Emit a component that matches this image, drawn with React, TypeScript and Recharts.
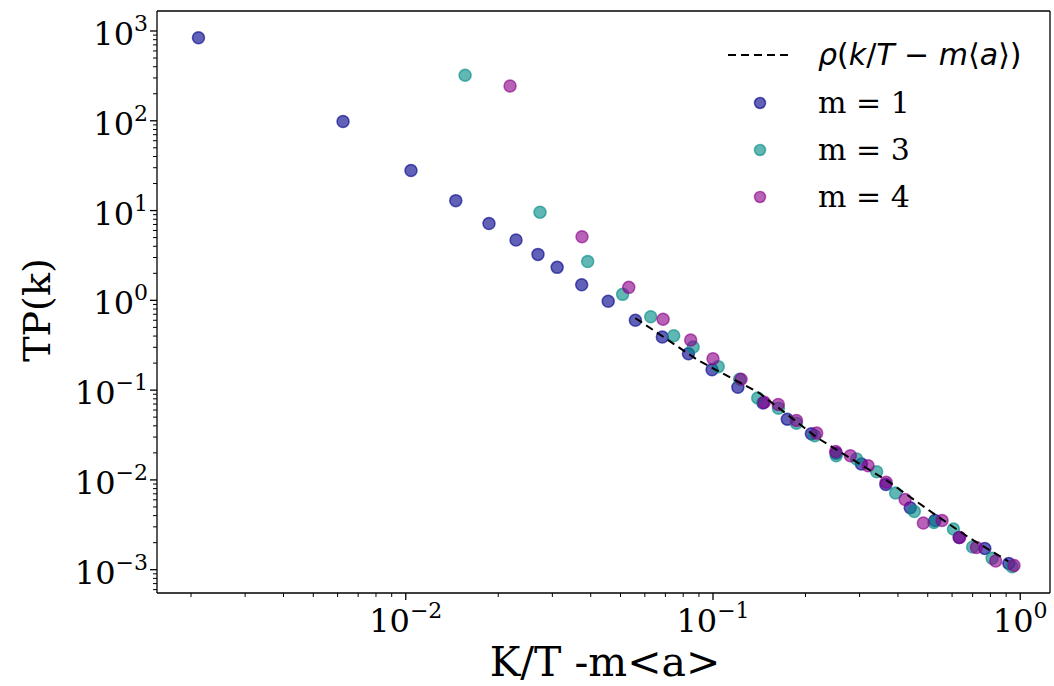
import {
  Label,
  Legend,
  ReferenceLine,
  Scatter,
  ScatterChart,
  XAxis,
  YAxis,
} from "recharts";

// m = 1
const m1X = [
  0.002115, 0.00625, 0.0104, 0.01455, 0.01866, 0.02285, 0.02694, 0.0311,
  0.03738, 0.0456, 0.0559, 0.0684, 0.0832, 0.0993, 0.1205, 0.1455, 0.1745,
  0.209, 0.2516, 0.3042, 0.3652, 0.4385, 0.5277, 0.6324, 0.767, 0.918,
];
const m1Y = [
  842, 98, 27.9, 12.9, 7.19, 4.69, 3.25, 2.33, 1.49, 0.975, 0.599, 0.391,
  0.2547, 0.169, 0.1077, 0.0721, 0.0475, 0.0326, 0.01987, 0.015, 0.00889,
  0.0049, 0.00353, 0.00229, 0.001726, 0.001175,
];

// m = 3
const m3X = [
  0.0156, 0.02735, 0.0391, 0.0508, 0.0627, 0.0745, 0.0862, 0.104, 0.1221,
  0.1398, 0.1633, 0.1869, 0.2143, 0.2518, 0.2935, 0.341, 0.393, 0.452, 0.5238,
  0.6063, 0.7, 0.81, 0.941,
];
const m3Y = [
  321, 9.6, 2.71, 1.166, 0.657, 0.404, 0.302, 0.1826, 0.1322, 0.0819, 0.0629,
  0.0428, 0.031, 0.01854, 0.01708, 0.0123, 0.00713, 0.00445, 0.00336, 0.00284,
  0.00179, 0.00134, 0.00108,
];

// m = 4
const m4X = [
  0.02185, 0.03747, 0.0532, 0.0688, 0.0846, 0.1, 0.1234, 0.1469, 0.1631,
  0.1869, 0.2176, 0.2508, 0.28, 0.3198, 0.3662, 0.422, 0.4838, 0.5566, 0.635,
  0.7203, 0.832, 0.9546,
];
const m4Y = [
  244, 5.1, 1.395, 0.615, 0.3618, 0.224, 0.1322, 0.0733, 0.0691, 0.046,
  0.0332, 0.0207, 0.01854, 0.0144, 0.0094, 0.00605, 0.00331, 0.00353, 0.00229,
  0.00177, 0.00125, 0.001114,
];

// rho(k/T - m<a>)
const fitX = [0.0559, 0.0891, 0.1419, 0.2192, 0.3722, 0.52, 0.684, 0.915];
const fitY = [0.635, 0.2168, 0.0923, 0.0292, 0.0096, 0.00427, 0.002253, 0.00124];

const xTicks = [
  0.002, 0.003, 0.004, 0.005, 0.006, 0.007, 0.008, 0.009,
  0.01, 0.02, 0.03, 0.04, 0.05, 0.06, 0.07, 0.08, 0.09,
  0.1, 0.2, 0.3, 0.4, 0.5, 0.6, 0.7, 0.8, 0.9, 1,
];
const yTicks = [
  0.0006, 0.0007, 0.0008, 0.0009,
  0.001, 0.002, 0.003, 0.004, 0.005, 0.006, 0.007, 0.008, 0.009,
  0.01, 0.02, 0.03, 0.04, 0.05, 0.06, 0.07, 0.08, 0.09,
  0.1, 0.2, 0.3, 0.4, 0.5, 0.6, 0.7, 0.8, 0.9,
  1, 2, 3, 4, 5, 6, 7, 8, 9,
  10, 20, 30, 40, 50, 60, 70, 80, 90,
  100, 200, 300, 400, 500, 600, 700, 800, 900,
  1000,
];

const xDomain = [0.00155, 1.25];
const yDomain = [0.00055, 1670];

const zip = (xs: number[], ys: number[]) =>
  xs.map((x, i) => ({ x, y: ys[i] }));

const m1 = zip(m1X, m1Y);
const m3 = zip(m3X, m3Y);
const m4 = zip(m4X, m4Y);
const fit = zip(fitX, fitY);

const BLUE = "#00008b";
const TEAL = "#008b85";
const MAGENTA = "#8b008b";

const serif = "DejaVu Serif";

function decade(v: number) {
  const l = Math.log10(v);
  const e = Math.round(l);
  return Math.abs(l - e) < 1e-6 ? e : null;
}

function expText(e: number) {
  return e < 0 ? `\u2212${-e}` : `${e}`;
}

function XTick(props: any) {
  const { x, y, payload } = props;
  const e = decade(payload.value);
  return (
    <g>
      <line
        x1={x}
        x2={x}
        y1={y}
        y2={y + (e !== null ? 7 : 4)}
        stroke="#000"
        strokeWidth={e !== null ? 1.3 : 1}
      />
      {e !== null && (
        <text
          x={x}
          y={y + 39}
          textAnchor="middle"
          fontFamily={serif}
          fontSize={32}
          fill="#000"
        >
          10
          <tspan dy={-14} fontSize={22}>
            {expText(e)}
          </tspan>
        </text>
      )}
    </g>
  );
}

function YTick(props: any) {
  const { x, y, payload } = props;
  const e = decade(payload.value);
  return (
    <g>
      <line
        x1={x}
        x2={x - (e !== null ? 7 : 4)}
        y1={y}
        y2={y}
        stroke="#000"
        strokeWidth={e !== null ? 1.3 : 1}
      />
      {e !== null && (
        <text
          x={x - 9}
          y={y + 14}
          textAnchor="end"
          fontFamily={serif}
          fontSize={32}
          fill="#000"
        >
          10
          <tspan dy={-14} fontSize={22}>
            {expText(e)}
          </tspan>
        </text>
      )}
    </g>
  );
}

const dot = (color: string) => (props: any) =>
  (
    <circle
      cx={props.cx}
      cy={props.cy}
      r={6}
      fill={color}
      fillOpacity={0.62}
      stroke={color}
      strokeOpacity={0.62}
      strokeWidth={1.5}
    />
  );

const legendRows = [
  { label: "m = 1", color: BLUE },
  { label: "m = 3", color: TEAL },
  { label: "m = 4", color: MAGENTA },
];

function renderLegend() {
  const it = { fontStyle: "italic" as const };
  return (
    <div style={{ lineHeight: 1 }}>
      <div style={{ display: "flex", alignItems: "center", height: 49 }}>
        <svg width={98} height={10}>
          <line
            x1={8}
            x2={70}
            y1={5}
            y2={5}
            stroke="#000"
            strokeWidth={2}
            strokeDasharray="8 5"
          />
        </svg>
        <span style={{ fontFamily: "DejaVu Sans", fontSize: 30 }}>
          <span style={it}>ρ</span>(<span style={it}>k</span>/
          <span style={it}>T</span> − <span style={it}>m</span>⟨
          <span style={it}>a</span>⟩)
        </span>
      </div>
      {legendRows.map((r) => (
        <div
          key={r.label}
          style={{ display: "flex", alignItems: "center", height: 47 }}
        >
          <svg width={98} height={16}>
            <circle
              cx={40}
              cy={8}
              r={5.5}
              fill={r.color}
              fillOpacity={0.62}
              stroke={r.color}
              strokeOpacity={0.62}
              strokeWidth={1.5}
            />
          </svg>
          <span style={{ fontFamily: serif, fontSize: 30 }}>{r.label}</span>
        </div>
      ))}
    </div>
  );
}

export default function App() {
  return (
    <div style={{ position: "relative", width: 1054, height: 686 }}>
      <style>{"body{margin:0;background:#fff}"}</style>
      <ScatterChart
        width={1054}
        height={686}
        margin={{ top: 11, right: 4, bottom: 0, left: 0 }}
      >
        <XAxis
          dataKey="x"
          type="number"
          scale="log"
          domain={xDomain}
          allowDataOverflow
          ticks={xTicks}
          interval={0}
          tick={<XTick />}
          tickSize={0}
          tickMargin={0}
          tickLine={false}
          axisLine={{ stroke: "#000", strokeWidth: 1.3 }}
          height={93}
        >
          <Label
            content={() => (
              <text
                x={605}
                y={676}
                textAnchor="middle"
                fontFamily={serif}
                fontSize={41}
                fill="#000"
              >
                K/T -m&lt;a&gt;
              </text>
            )}
          />
        </XAxis>
        <YAxis
          dataKey="y"
          type="number"
          scale="log"
          domain={yDomain}
          allowDataOverflow
          ticks={yTicks}
          interval={0}
          tick={<YTick />}
          tickSize={0}
          tickMargin={0}
          tickLine={false}
          axisLine={{ stroke: "#000", strokeWidth: 1.3 }}
          width={157}
        >
          <Label
            content={() => (
              <text
                x={50}
                y={310}
                transform="rotate(-90 50 310)"
                textAnchor="middle"
                fontFamily={serif}
                fontSize={38}
                fill="#000"
              >
                TP(k)
              </text>
            )}
          />
        </YAxis>
        <ReferenceLine
          y={yDomain[1]}
          stroke="#000"
          strokeWidth={1.3}
          ifOverflow="visible"
        />
        <ReferenceLine
          x={xDomain[1]}
          stroke="#000"
          strokeWidth={1.3}
          ifOverflow="visible"
        />
        <Legend
          layout="horizontal"
          verticalAlign="middle"
          align="center"
          content={renderLegend}
          wrapperStyle={{ left: 720, top: 30, width: 330, height: 190 }}
        />
        <Scatter
          name="m = 1"
          data={m1}
          shape={dot(BLUE)}
          isAnimationActive={false}
        />
        <Scatter
          name="m = 3"
          data={m3}
          shape={dot(TEAL)}
          isAnimationActive={false}
        />
        <Scatter
          name="m = 4"
          data={m4}
          shape={dot(MAGENTA)}
          isAnimationActive={false}
        />
        <Scatter
          name="fit"
          data={fit}
          line={{ stroke: "#000", strokeWidth: 2, strokeDasharray: "8 5" }}
          shape={() => <g />}
          legendType="none"
          isAnimationActive={false}
        />
      </ScatterChart>
    </div>
  );
}
